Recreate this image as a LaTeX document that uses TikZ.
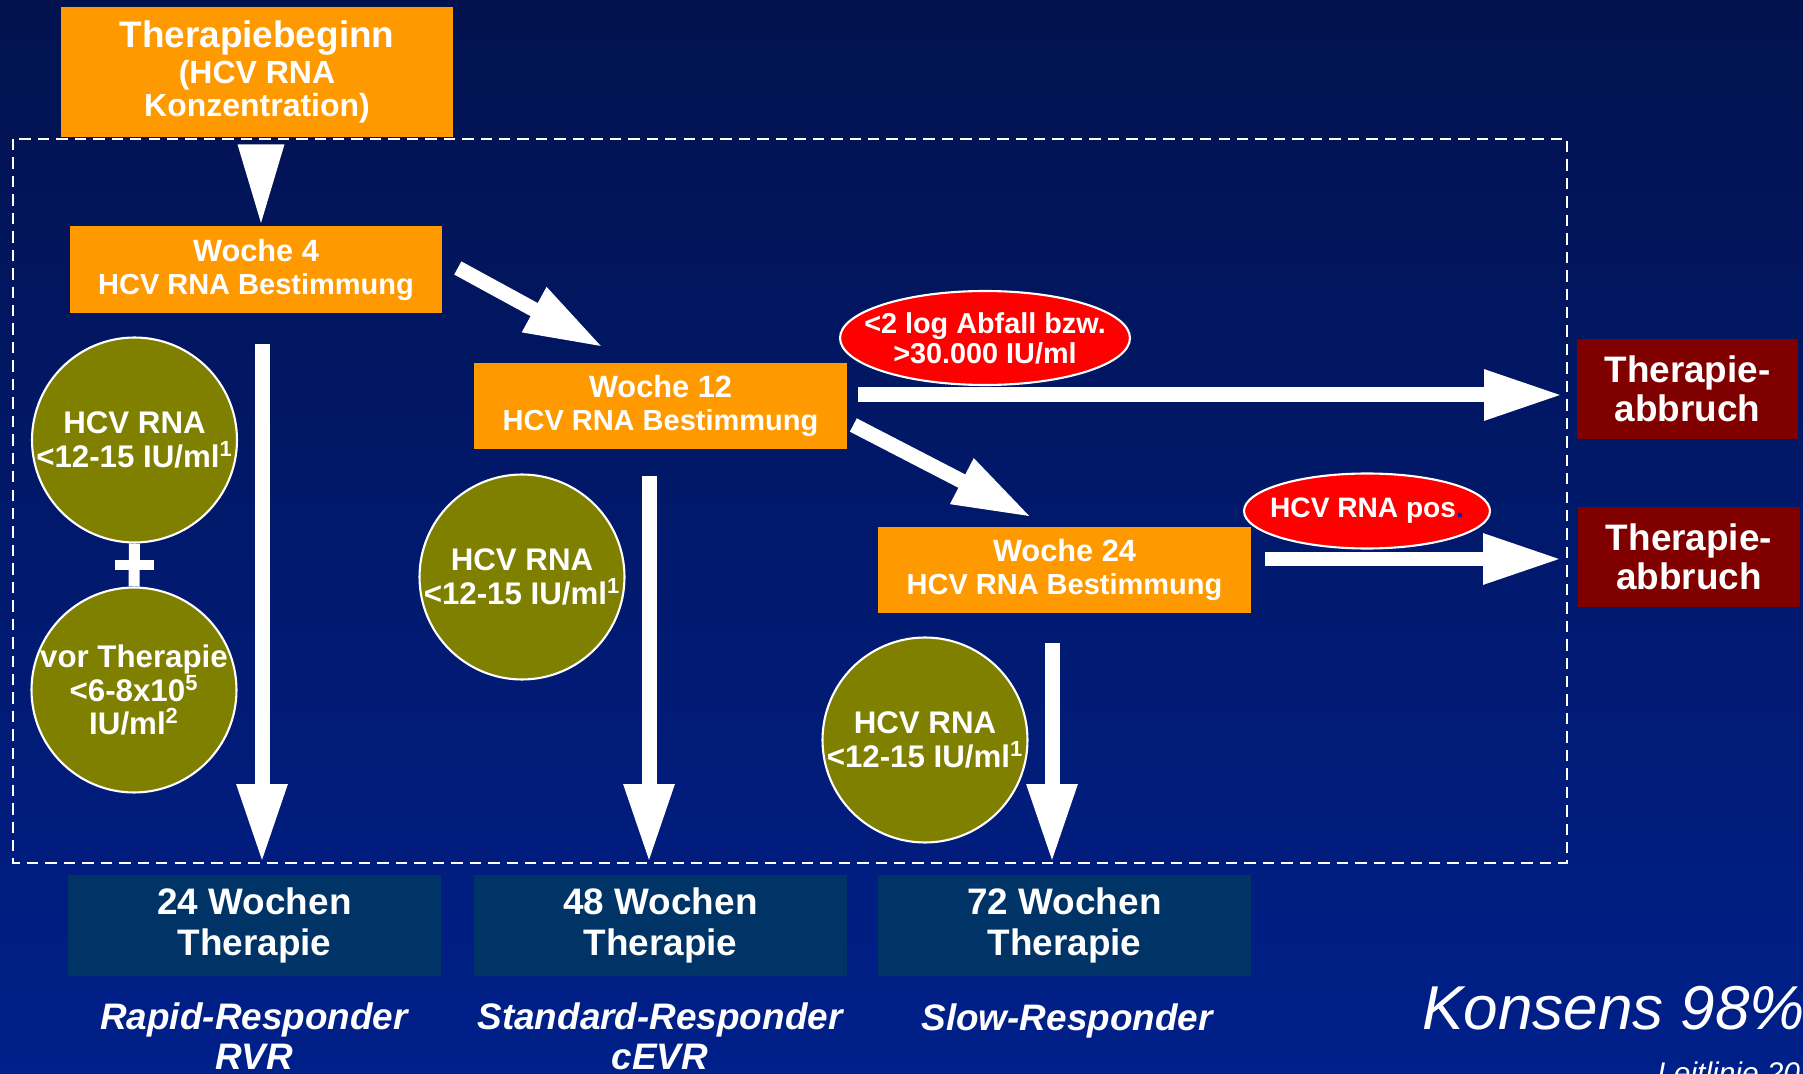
\documentclass[tikz,border=0pt]{standalone}
\usepackage{fontspec}
\setmainfont{Liberation Sans}
\usetikzlibrary{arrows.meta,calc,positioning,shapes.geometric}
\definecolor{SlideTop}{HTML}{02124E}
\definecolor{SlideBottom}{HTML}{00208A}
\definecolor{StepOrange}{HTML}{FF9900}
\definecolor{StopRed}{HTML}{800000}
\definecolor{ResultNavy}{HTML}{003366}
\definecolor{LevelOlive}{HTML}{808000}
\definecolor{AlertRed}{HTML}{FF0000}
\definecolor{DotBlue}{HTML}{1A1AA0}

\begin{document}
\begin{tikzpicture}[x=0.02cm,y=-0.02cm,
  every node/.style={text=white,inner sep=0pt,align=center},
  weekbox/.style={fill=StepOrange,minimum width=7.46cm,minimum height=1.73cm,
    font=\fontsize{16.5}{18.8}\selectfont\bfseries},
  stopbox/.style={fill=StopRed,minimum width=4.44cm,minimum height=2cm,
    font=\fontsize{21}{22.2}\selectfont\bfseries},
  resultbox/.style={fill=ResultNavy,minimum width=7.46cm,minimum height=2.02cm,
    font=\fontsize{21}{23.3}\selectfont\bfseries},
  level/.style={circle,fill=LevelOlive,draw=white,line width=1.2pt,minimum size=4.1cm},
  leveltext/.style={font=\fontsize{17.8}{19.3}\selectfont\bfseries},
  alert/.style={ellipse,fill=AlertRed,draw=white,line width=1.2pt},
  alerttext/.style={font=\fontsize{16.4}{17}\selectfont\bfseries},
  responder/.style={font=\fontsize{21}{22.2}\selectfont\bfseries\itshape,anchor=base},
  bigarrow/.style={white,line width=0.3cm,-{Triangle[length=1.58cm,width=0.94cm]}}]
  \useasboundingbox (0,0) rectangle (1803,1074);
  \clip (0,0) rectangle (1803,1074);
  \shade[top color=SlideTop,bottom color=SlideBottom] (0,0) rectangle (1803,1074);
  % frame round the decision steps
  \draw[white,line width=1.1pt,dash pattern=on 6.5pt off 4pt] (13,139) rectangle (1567,863);

  \node[fill=StepOrange,minimum width=7.84cm,minimum height=2.6cm,
    font=\fontsize{18.2}{18.8}\selectfont\bfseries] (start) at (257,72)
    {{\fontsize{21}{20.5}\selectfont Therapiebeginn}\\[1.5pt](HCV RNA\\Konzentration)};
  \node[weekbox] (w4) at (256,269.5) {{\fontsize{17.5}{18.8}\selectfont Woche 4}\\HCV RNA Bestimmung};
  \node[weekbox] (w12) at (660.5,406) {{\fontsize{17.5}{18.8}\selectfont Woche 12}\\HCV RNA Bestimmung};
  \node[weekbox] (w24) at (1064.5,570) {{\fontsize{17.5}{18.8}\selectfont Woche 24}\\HCV RNA Bestimmung};
  \node[stopbox] (stop1) at (1687.5,389) {Therapie-\\abbruch};
  \node[stopbox] (stop2) at (1689,557) {Therapie-\\abbruch};

  \node[resultbox] (r24) at (254.5,925.5) {24 Wochen\\Therapie};
  \node[resultbox] (r48) at (660.5,925.5) {48 Wochen\\Therapie};
  \node[resultbox] (r72) at (1064.5,925.5) {72 Wochen\\Therapie};
  \node[responder] (rvr) at (254,1069) {Rapid-Responder\\RVR};
  \node[responder] (evr) at (660,1069) {Standard-Responder\\cEVR};
  \node[responder] (slow) at (1067,1030) {Slow-Responder};

  % criteria
  \node[level] (c1) at (134.5,440) {};
  \node[leveltext] (c1t) at (c1) {HCV RNA\\<12-15 IU/ml\textsuperscript{1}};
  \node[level] (c2) at (134,690) {};
  \node[leveltext] (c2t) at (c2) {vor Therapie\\<6-8x10\textsuperscript{5}\\IU/ml\textsuperscript{2}};
  \draw[white,line width=0.22cm] (c1.south) -- (c2.north);
  \draw[white,line width=0.22cm] ($(c1.south)!0.5!(c2.north)+(-19.5,0)$) -- ++(39,0);
  \node[level] (c3) at (522,577) {};
  \node[leveltext] (c3t) at (c3) {HCV RNA\\<12-15 IU/ml\textsuperscript{1}};
  \node[level] (c4) at (925,740) {};
  \node[leveltext] (c4t) at (c4) {HCV RNA\\<12-15 IU/ml\textsuperscript{1}};

  \node[alert,minimum width=5.8cm,minimum height=1.88cm] (e1) at (985,338) {};
  \node[alerttext] (e1t) at (e1) {<2 log Abfall bzw.\\>30.000 IU/ml};
  \node[alert,minimum width=4.92cm,minimum height=1.5cm] (e2) at (1367,511) {};
  \node[alerttext,font=\fontsize{16}{17}\selectfont\bfseries] (e2t) at (e2)
    {HCV RNA pos\textcolor{DotBlue}{.}};

  % arrows
  \coordinate (w4in) at (261,223);
  \fill[white] ($(start.south -| w4in)+(-23.5,7)$) -- ($(start.south -| w4in)+(23.5,7)$)
    -- (w4in) -- cycle;
  \draw[bigarrow] ($(w4.east)+(15,-1.5)$) -- ($(w12.north)+(-57,-15)$);
  \coordinate (stop1in) at (1563,395);
  \draw[bigarrow] ($(w12.east)+(11,-11)$) -- (stop1in);
  \draw[bigarrow] ($(w12.east)+(6,19)$) -- ($(w24.north)+(-32.5,-9)$);
  \coordinate (stop2in) at (1562,559);
  \draw[bigarrow] ($(w24.east)+(14,-11)$) -- (stop2in);
  \coordinate (r24in) at (262,863);
  \draw[bigarrow] ($(w4.south)+(6,31)$) -- (r24in);
  \coordinate (r48in) at (649,863);
  \draw[bigarrow] ($(w12.south)+(-11.5,26)$) -- (r48in);
  \coordinate (r72in) at (1052,863);
  \draw[bigarrow] ($(w24.south)+(-12.5,29)$) -- (r72in);

  \node[font=\fontsize{35.3}{40}\selectfont\itshape,anchor=base west] (consensus) at (1422,1029) {Konsens 98\%};
  \node[font=\fontsize{17}{20}\selectfont\itshape,anchor=base west] (source) at (1657,1083) {Leitlinie 20};
\end{tikzpicture}
\end{document}
